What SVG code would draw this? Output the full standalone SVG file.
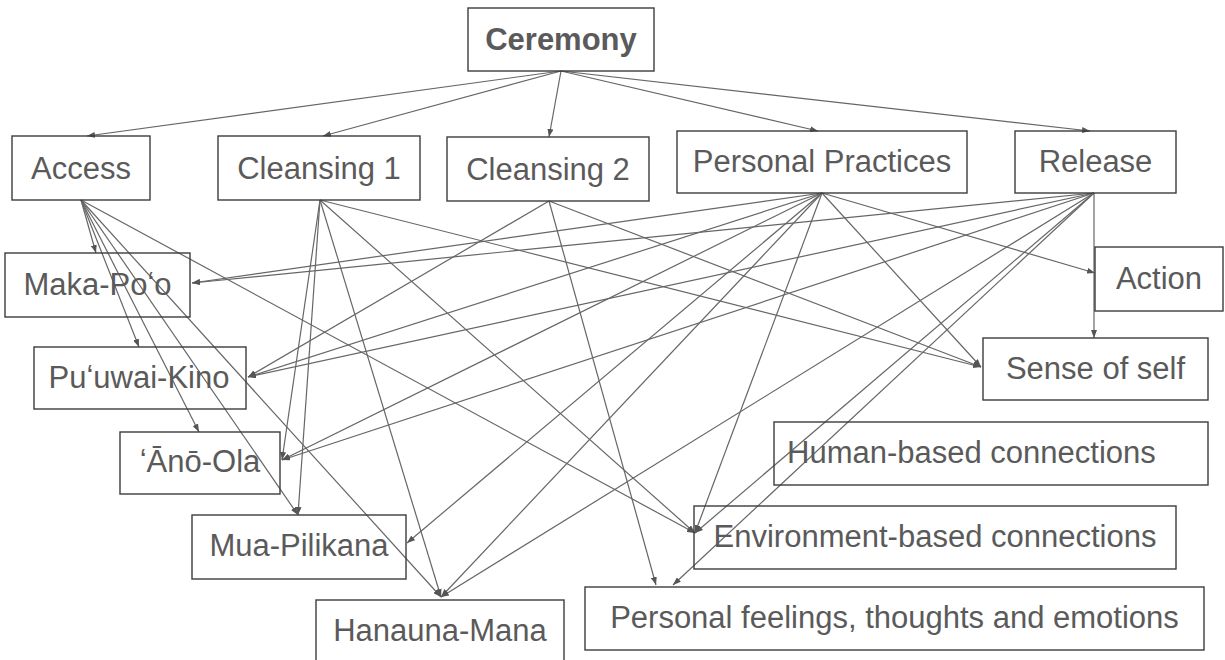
<svg xmlns="http://www.w3.org/2000/svg" width="1225" height="660" viewBox="0 0 1225 660">
  <defs>
    <style>
      .box { fill: none; stroke: #3c3c3c; stroke-width: 1.4; }
      .lbl { font-family: "Liberation Sans", Arial, sans-serif; font-size: 31px; fill: #5a5a5a; text-anchor: middle; }
      .bold { font-weight: bold; }
      .edge { stroke: #666666; stroke-width: 1.2; fill: none; marker-end: url(#tip); }
    </style>
    <marker id="tip" viewBox="0 0 8 6" refX="8" refY="3" markerWidth="8" markerHeight="6" markerUnits="userSpaceOnUse" orient="auto">
      <path d="M0,0 L8,3 L0,6 Z" fill="#555555"/>
    </marker>
  </defs>
  <rect width="1225" height="660" fill="#ffffff"/>

  <!-- connectors -->
  <g id="connectors">
    <!-- Ceremony to the five practices -->
    <line class="edge" x1="561" y1="71" x2="87" y2="136"/>
    <line class="edge" x1="561" y1="71" x2="323" y2="136"/>
    <line class="edge" x1="561" y1="71" x2="549" y2="137"/>
    <line class="edge" x1="561" y1="71" x2="818" y2="131"/>
    <line class="edge" x1="561" y1="71" x2="1090" y2="131"/>
    <!-- Access -->
    <line class="edge" x1="81" y1="200" x2="96" y2="253"/>
    <line class="edge" x1="81" y1="200" x2="139" y2="347"/>
    <line class="edge" x1="81" y1="200" x2="199" y2="432"/>
    <line class="edge" x1="81" y1="200" x2="298" y2="515"/>
    <line class="edge" x1="81" y1="200" x2="441" y2="597"/>
    <line class="edge" x1="81" y1="200" x2="695" y2="533"/>
    <!-- Cleansing 1 -->
    <line class="edge" x1="320" y1="200" x2="282" y2="460"/>
    <line class="edge" x1="320" y1="200" x2="298" y2="515"/>
    <line class="edge" x1="320" y1="200" x2="441" y2="597"/>
    <line class="edge" x1="320" y1="200" x2="695" y2="533"/>
    <line class="edge" x1="320" y1="200" x2="981" y2="367"/>
    <!-- Cleansing 2 -->
    <line class="edge" x1="549" y1="201" x2="248" y2="377"/>
    <line class="edge" x1="549" y1="201" x2="656" y2="585"/>
    <line class="edge" x1="549" y1="201" x2="981" y2="367"/>
    <!-- Personal Practices -->
    <line class="edge" x1="822" y1="193" x2="192" y2="283"/>
    <line class="edge" x1="822" y1="193" x2="248" y2="377"/>
    <line class="edge" x1="822" y1="193" x2="282" y2="460"/>
    <line class="edge" x1="822" y1="193" x2="407" y2="543"/>
    <line class="edge" x1="822" y1="193" x2="441" y2="597"/>
    <line class="edge" x1="822" y1="193" x2="695" y2="533"/>
    <line class="edge" x1="822" y1="193" x2="981" y2="367"/>
    <line class="edge" x1="822" y1="193" x2="1095" y2="273"/>
    <!-- Release -->
    <line class="edge" x1="1094" y1="193" x2="192" y2="283"/>
    <line class="edge" x1="1094" y1="193" x2="248" y2="377"/>
    <line class="edge" x1="1094" y1="193" x2="282" y2="460"/>
    <line class="edge" x1="1094" y1="193" x2="441" y2="597"/>
    <line class="edge" x1="1094" y1="193" x2="695" y2="533"/>
    <line class="edge" x1="1094" y1="193" x2="673" y2="585"/>
    <line class="edge" x1="1094" y1="193" x2="1094" y2="338"/>
  </g>

  <!-- top level -->
  <g id="ceremony">
    <rect class="box" x="468" y="8" width="186" height="63"/>
    <text class="lbl bold" x="561" y="50">Ceremony</text>
  </g>

  <!-- practices -->
  <g id="access">
    <rect class="box" x="12" y="136" width="138" height="64"/>
    <text class="lbl" x="81" y="178.5">Access</text>
  </g>
  <g id="cleansing-1">
    <rect class="box" x="218" y="136" width="202" height="64"/>
    <text class="lbl" x="319" y="178.5">Cleansing 1</text>
  </g>
  <g id="cleansing-2">
    <rect class="box" x="447" y="137" width="202" height="64"/>
    <text class="lbl" x="548" y="180">Cleansing 2</text>
  </g>
  <g id="personal-practices">
    <rect class="box" x="677" y="131" width="290" height="62"/>
    <text class="lbl" x="822" y="172">Personal Practices</text>
  </g>
  <g id="release">
    <rect class="box" x="1015" y="131" width="161" height="62"/>
    <text class="lbl" x="1095.5" y="172">Release</text>
  </g>

  <!-- left column -->
  <g id="maka-poo">
    <rect class="box" x="5" y="253" width="185" height="64"/>
    <text class="lbl" x="97.5" y="295">Maka-Poʻo</text>
  </g>
  <g id="puuwai-kino">
    <rect class="box" x="34" y="347" width="212" height="62"/>
    <text class="lbl" x="139" y="388">Puʻuwai-Kino</text>
  </g>
  <g id="ano-ola">
    <rect class="box" x="120" y="432" width="160" height="62"/>
    <text class="lbl" x="200" y="472">ʻĀnō-Ola</text>
  </g>
  <g id="mua-pilikana">
    <rect class="box" x="192" y="515" width="214" height="64"/>
    <text class="lbl" x="299" y="556">Mua-Pilikana</text>
  </g>
  <g id="hanauna-mana">
    <rect class="box" x="316" y="600" width="248" height="64"/>
    <text class="lbl" x="440" y="641">Hanauna-Mana</text>
  </g>

  <!-- right column -->
  <g id="action">
    <rect class="box" x="1095" y="247" width="128" height="64"/>
    <text class="lbl" x="1159" y="289">Action</text>
  </g>
  <g id="sense-of-self">
    <rect class="box" x="983" y="338" width="225" height="62"/>
    <text class="lbl" x="1095.5" y="378.5">Sense of self</text>
  </g>
  <g id="human-based">
    <rect class="box" x="774" y="422" width="434" height="63"/>
    <text class="lbl" x="787" y="463" style="text-anchor:start">Human-based connections</text>
  </g>
  <g id="environment-based">
    <rect class="box" x="694" y="506" width="482" height="63"/>
    <text class="lbl" x="935" y="546.5">Environment-based connections</text>
  </g>
  <g id="personal-feelings">
    <rect class="box" x="585" y="587" width="619" height="63"/>
    <text class="lbl" x="894.5" y="627.5">Personal feelings, thoughts and emotions</text>
  </g>
</svg>
